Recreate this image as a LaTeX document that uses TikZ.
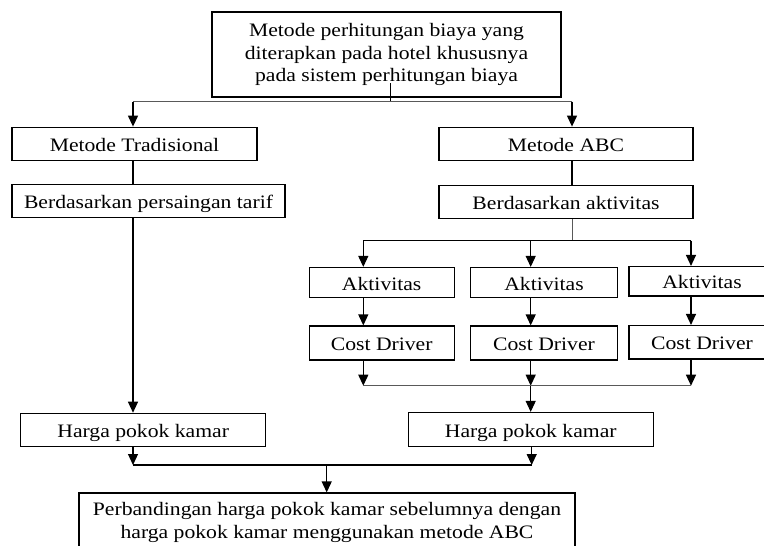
\documentclass[tikz,border=0pt]{standalone}
\usepackage{fontspec}
\setmainfont[FakeStretch=1.14]{Liberation Serif}
\usetikzlibrary{arrows.meta,calc}
\begin{document}
\begin{tikzpicture}[x=1pt,y=-1pt,
  mbox/.style={draw, line width=1.2pt, inner sep=0pt, align=center,
    font=\fontsize{19}{22.5}\selectfont},
  box/.style={mbox, text height=16.5pt, text depth=1.5pt},
  ln/.style={line width=1.2pt},
  gln/.style={line width=1.2pt, draw=black!65},
  arr/.style={line width=1.2pt, -{Triangle[width=10pt,length=11pt]}}]
\useasboundingbox (0,0) rectangle (764,546);
\clip (0,0) rectangle (764,546);

% nodes
\node[mbox, minimum width=349pt, minimum height=85pt] (top) at (386.5,54.5)
  {Metode perhitungan biaya yang\\diterapkan pada hotel khususnya\\pada sistem perhitungan biaya};
\node[box, minimum width=245pt, minimum height=33pt] (trad) at (134.5,143.7) {Metode Tradisional};
\node[box, minimum width=273pt, minimum height=33pt] (pers) at (148.5,200.7) {Berdasarkan persaingan tarif};
\node[box, minimum width=254pt, minimum height=33pt] (abc) at (566,143.7) {Metode ABC};
\node[box, minimum width=254pt, minimum height=33pt] (akt) at (566,202.3) {Berdasarkan aktivitas};
\node[box, minimum width=145pt, minimum height=30pt] (a1) at (381.7,282.5) {Aktivitas};
\node[box, minimum width=147pt, minimum height=30pt] (a2) at (544,282.5) {Aktivitas};
\node[box, minimum width=146pt, minimum height=29.5pt] (a3) at (702,281.3) {Aktivitas};
\node[box, minimum width=145pt, minimum height=34pt] (c1) at (381.7,343) {Cost Driver};
\node[box, minimum width=147pt, minimum height=34pt] (c2) at (544,343) {Cost Driver};
\node[box, minimum width=146pt, minimum height=33.5pt] (c3) at (702,342.3) {Cost Driver};
\node[box, minimum width=245pt, minimum height=33.4pt] (h1) at (143.2,430) {Harga pokok kamar};
\node[box, minimum width=245pt, minimum height=34pt] (h2) at (530.8,429.5) {Harga pokok kamar};
\node[mbox, minimum width=496pt, minimum height=58pt,
  font=\fontsize{19}{23}\selectfont] (bot) at (327,522)
  {Perbandingan harga pokok kamar sebelumnya dengan\\harga pokok kamar menggunakan metode ABC};

% junction coordinates
\coordinate (s0) at (390.7,83);
\coordinate (j0) at (390.7,101.5);
\coordinate (jl) at (133,101.5);
\coordinate (jr) at (572,101.5);
\coordinate (k0) at (572.7,240.7);
\coordinate (k1) at (363.3,240.7);
\coordinate (k2) at (530.7,240.7);
\coordinate (k3) at (691,240.7);
\coordinate (m1) at (363.3,385.7);
\coordinate (m2) at (530.7,385.7);
\coordinate (m3) at (691,385.7);
\coordinate (n1) at (133,465);
\coordinate (n2) at (531.7,465);
\coordinate (n0) at (326.7,465);

% connectors
\draw[ln] (s0) -- (j0);
\draw[gln] (jl) -- (jr);
\draw[arr] (jl) -- (jl |- trad.north);
\draw[arr] (jr) -- (jr |- abc.north);
\draw[ln] (trad.south -| jl) -- (pers.north -| jl);
\draw[arr] (pers.south -| jl) -- (h1.north -| jl);
\draw[ln] (abc.south -| jr) -- (akt.north -| jr);
\draw[gln] (akt.south -| k0) -- (k0);
\draw[ln] (k1) -- (k3);
\draw[arr] (k1) -- (k1 |- a1.north);
\draw[arr] (k2) -- (k2 |- a2.north);
\draw[arr] (k3) -- (k3 |- a3.north);
\draw[arr] (a1.south -| k1) -- (c1.north -| k1);
\draw[arr] (a2.south -| k2) -- (c2.north -| k2);
\draw[arr] (a3.south -| k3) -- (c3.north -| k3);
\draw[arr] (c1.south -| m1) -- (m1);
\draw[arr] (c2.south -| m2) -- (m2);
\draw[arr] (c3.south -| m3) -- (m3);
\draw[gln] (m1) -- (m3);
\draw[arr] (m2) -- (m2 |- h2.north);
\draw[arr] (h1.south -| n1) -- (n1);
\draw[arr] (h2.south -| n2) -- (n2);
\draw[ln] (n1) -- (n2);
\draw[arr] (n0) -- (n0 |- bot.north);
\end{tikzpicture}
\end{document}
